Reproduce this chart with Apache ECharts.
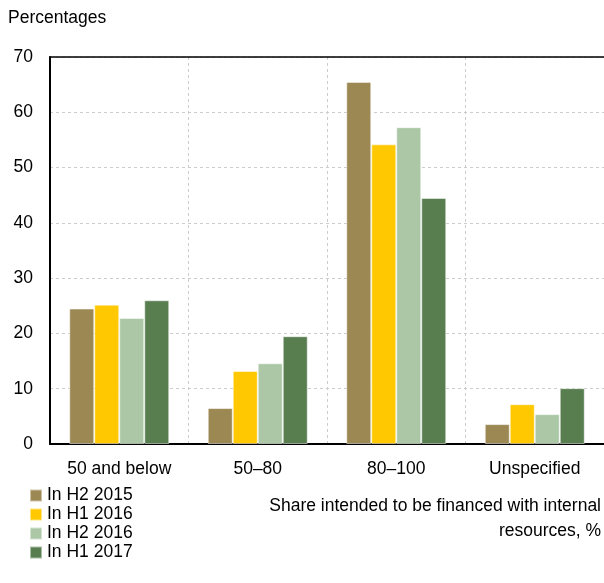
<!DOCTYPE html>
<html><head><meta charset="utf-8">
<script src="https://cdn.jsdelivr.net/npm/echarts@6/dist/echarts.min.js"></script>
<style>html,body{margin:0;padding:0;background:#fff}#c{width:604px;height:583px}</style>
</head><body><div id="c"></div>
<script>
const categories = ['50 and below', '50–80', '80–100', 'Unspecified'];
const seriesNames = ['In H2 2015', 'In H1 2016', 'In H2 2016', 'In H1 2017'];
const h2_2015 = [24.5, 6.5, 65.5, 3.6];
const h1_2016 = [25.2, 13.2, 54.2, 7.2];
const h2_2016 = [22.8, 14.6, 57.3, 5.4];
const h1_2017 = [26.0, 19.5, 44.5, 10.1];
const colors = ['#9C8852', '#FFC800', '#ABC7A6', '#587E50'];
const FONT = '"Liberation Sans Narrow", "Arial Narrow", "Liberation Sans", Arial, sans-serif';
const FS = 17.5;

const chart = echarts.init(document.getElementById('c'), null, {renderer: 'canvas'});
const data = [h2_2015, h1_2016, h2_2016, h1_2017];
chart.setOption({
  animation: false,
  textStyle: {fontFamily: FONT},
  grid: {left: 50, top: 57, width: 557, height: 387, containLabel: false},
  legend: {
    orient: 'vertical', left: 29, top: 486, height: 100, itemWidth: 12, itemHeight: 12, itemGap: 0,
    icon: 'rect', data: seriesNames, padding: 0,
    textStyle: {fontFamily: FONT, fontSize: FS, color: '#000', lineHeight: 19}
  },
  xAxis: [{
    type: 'category', data: categories, position: 'bottom',
    axisLine: {show: true, lineStyle: {color: '#000', width: 2}},
    axisTick: {show: false},
    axisLabel: {fontFamily: FONT, fontSize: FS, color: '#000', margin: 16},
    splitLine: {show: true, lineStyle: {color: '#cccccc', type: [3, 3], width: 1}}
  }, {
    type: 'category', data: categories, position: 'top',
    axisLine: {show: true, lineStyle: {color: '#000', width: 1.5}},
    axisTick: {show: false}, axisLabel: {show: false}
  }],
  yAxis: {
    type: 'value', min: 0, max: 70, interval: 10,
    axisLine: {show: true, lineStyle: {color: '#000', width: 2}},
    axisTick: {show: false},
    axisLabel: {fontFamily: FONT, fontSize: FS, color: '#000', margin: 17},
    splitLine: {show: true, lineStyle: {color: '#cccccc', type: [3, 3], width: 1}}
  },
  graphic: [
    {type: 'text', left: 8, top: 9, style: {text: 'Percentages', font: FS + 'px ' + FONT, fill: '#000'}},
    {type: 'text', right: 3, top: 497, style: {text: 'Share intended to be financed with internal', font: FS + 'px ' + FONT, fill: '#000'}},
    {type: 'text', right: 3, top: 522, style: {text: 'resources, %', font: FS + 'px ' + FONT, fill: '#000'}}
  ],
  series: data.map((d, i) => ({
    name: seriesNames[i], type: 'bar', data: d, barWidth: 25, barGap: '0%',
    itemStyle: {color: colors[i], borderColor: 'rgba(255,255,255,0.5)', borderWidth: 1}
  }))
});
</script></body></html>
